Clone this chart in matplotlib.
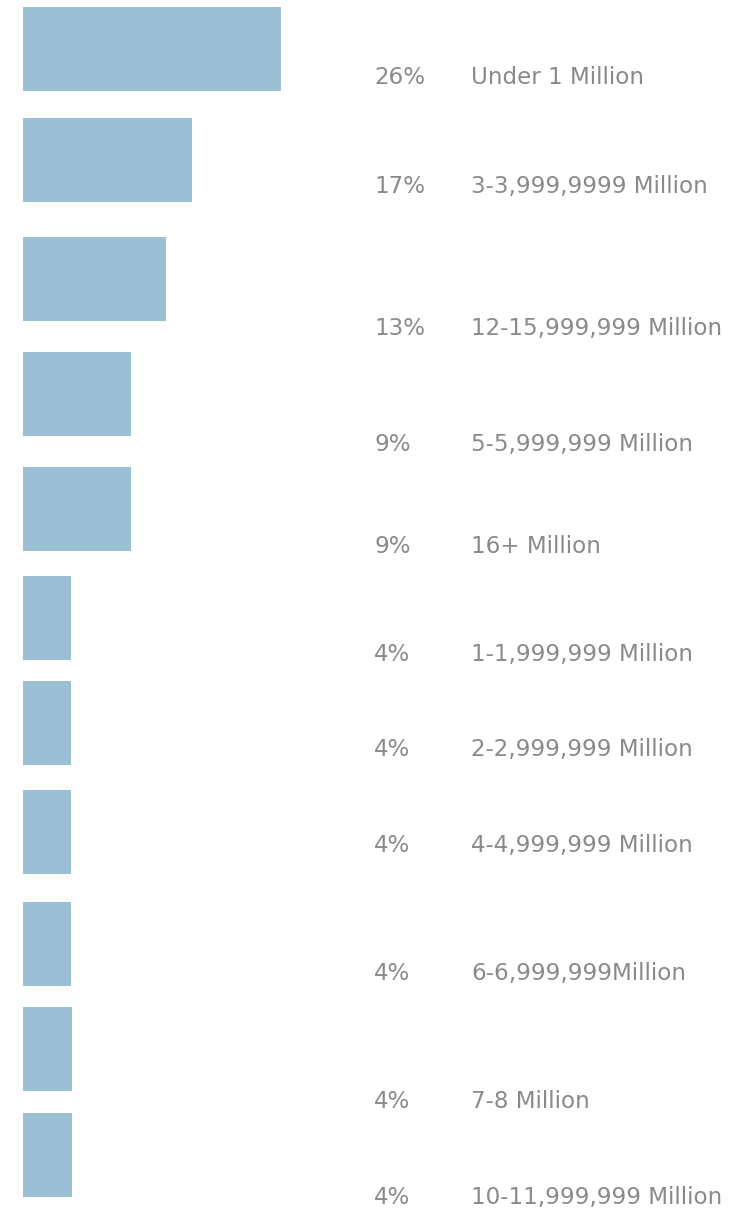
import matplotlib
matplotlib.use("Agg")
import matplotlib.pyplot as plt

categories = ["Under 1 Million", "3-3,999,9999 Million", "12-15,999,999 Million",
              "5-5,999,999 Million", "16+ Million", "1-1,999,999 Million",
              "2-2,999,999 Million", "4-4,999,999 Million", "6-6,999,999Million",
              "7-8 Million", "10-11,999,999 Million"]
pct_labels = ["26%", "17%", "13%", "9%", "9%", "4%", "4%", "4%", "4%", "4%", "4%"]
bar_lengths = [26, 17.0, 14.4, 10.9, 10.9, 4.85, 4.85, 4.85, 4.85, 4.9, 4.9]

# layout (pixel positions in a 738x1210 canvas)
W, H = 738, 1210
bar_centers = [49, 160, 279, 394, 509, 618, 723, 832, 944, 1049, 1155]
bar_height = 84
text_baselines = [84, 193, 335, 451, 553, 661, 756, 852, 980, 1108, 1204]
px_per_unit = 9.92
x0 = 23

fig = plt.figure(figsize=(W / 100, H / 100), dpi=100)
ax = fig.add_axes([x0 / W, 0, 1 - x0 / W, 1])
ax.set_xlim(0, (W - x0) / px_per_unit)
ax.set_ylim(H, 0)
ax.barh(bar_centers, bar_lengths, height=bar_height, color="#9bc0d5", left=0)
ax.axis("off")

color = "#8a8a8a"
font = "DejaVu Sans"
for pct, cat, yb in zip(pct_labels, categories, text_baselines):
    fig.text(374 / W, 1 - yb / H, pct, fontsize=16.6, color=color,
             family=font, va="baseline", ha="left")
    fig.text(471 / W, 1 - yb / H, cat, fontsize=16.6, color=color,
             family=font, va="baseline", ha="left")

fig.savefig("out.png", dpi=100)
